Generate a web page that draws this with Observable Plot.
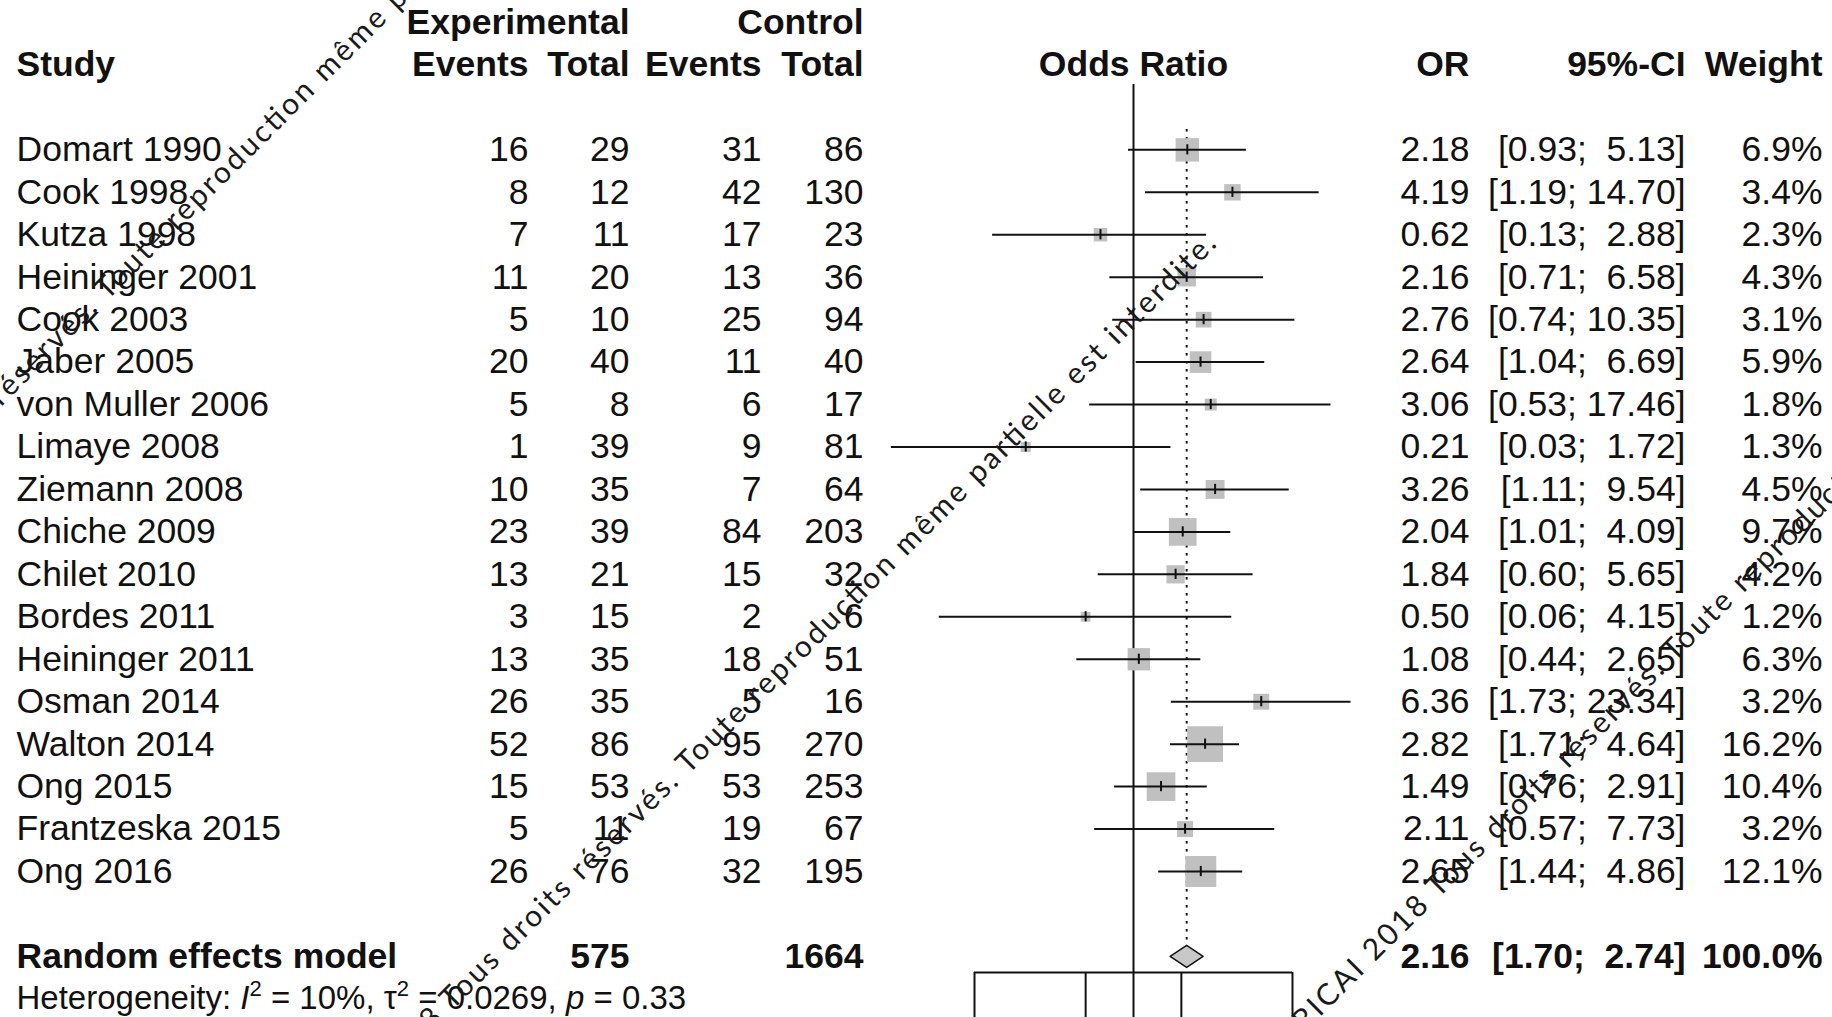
<!DOCTYPE html>
<html>
<head>
<meta charset="utf-8">
<script src="https://cdn.jsdelivr.net/npm/d3@7"></script>
<script src="https://cdn.jsdelivr.net/npm/@observablehq/plot@0.6"></script>
<style>
  html, body { margin: 0; padding: 0; background: #fff; }
  #chart svg { display: block; }
</style>
</head>
<body>
<div id="chart"></div>
<script>
// ---------------- data ----------------
const studies = ["Domart 1990","Cook 1998","Kutza 1998","Heininger 2001","Cook 2003","Jaber 2005",
  "von Muller 2006","Limaye 2008","Ziemann 2008","Chiche 2009","Chilet 2010","Bordes 2011",
  "Heininger 2011","Osman 2014","Walton 2014","Ong 2015","Frantzeska 2015","Ong 2016"];
const expEvents  = [16, 8, 7, 11, 5, 20, 5, 1, 10, 23, 13, 3, 13, 26, 52, 15, 5, 26];
const expTotal   = [29, 12, 11, 20, 10, 40, 8, 39, 35, 39, 21, 15, 35, 35, 86, 53, 11, 76];
const ctrlEvents = [31, 42, 17, 13, 25, 11, 6, 9, 7, 84, 15, 2, 18, 5, 95, 53, 19, 32];
const ctrlTotal  = [86, 130, 23, 36, 94, 40, 17, 81, 64, 203, 32, 6, 51, 16, 270, 253, 67, 195];
const oddsRatio  = [2.18, 4.19, 0.62, 2.16, 2.76, 2.64, 3.06, 0.21, 3.26, 2.04, 1.84, 0.50, 1.08, 6.36, 2.82, 1.49, 2.11, 2.65];
const ciLower    = [0.93, 1.19, 0.13, 0.71, 0.74, 1.04, 0.53, 0.03, 1.11, 1.01, 0.60, 0.06, 0.44, 1.73, 1.71, 0.76, 0.57, 1.44];
const ciUpper    = [5.13, 14.70, 2.88, 6.58, 10.35, 6.69, 17.46, 1.72, 9.54, 4.09, 5.65, 4.15, 2.65, 23.34, 4.64, 2.91, 7.73, 4.86];
const weights    = [6.9, 3.4, 2.3, 4.3, 3.1, 5.9, 1.8, 1.3, 4.5, 9.7, 4.2, 1.2, 6.3, 3.2, 16.2, 10.4, 3.2, 12.1];

const summaryLabel = "Random effects model";
const summaryOR = 2.16, summaryLower = 1.70, summaryUpper = 2.74, summaryWeight = 100.0;
const hetI2 = "10%", hetTau2 = "0.0269", hetP = "0.33";
const xTicks = [0.1, 0.5, 1, 2, 10];
const headerTop = ["Experimental", "Control"];
const headerCols = ["Study", "Events", "Total", "Events", "Total", "Odds Ratio", "OR", "95%-CI", "Weight"];
const watermark = "© RICAI 2018 Tous droits réservés. Toute reproduction même partielle est interdite.";

// ---------------- layout ----------------
const W = 1832, H = 1017;
const row0 = 22, rowH = 42.45;
const firstRow = 3;
const sumRow = firstRow + studies.length + 1;
const hetRow = sumRow + 1;
const axisRow = sumRow + 0.38;
const FONT = "'Liberation Sans', Arial, Helvetica, sans-serif";
const FS = 35.5;
const INK = "#111";

const nb = "\u00A0";
const f2 = v => v.toFixed(2);
const ciText = (lo, hi) => `[${f2(lo)};${nb}${f2(hi).padStart(5, nb)}]`;
const wText = w => w.toFixed(1) + "%";

const rows = studies.map((s, i) => ({
  study: s, ee: String(expEvents[i]), et: String(expTotal[i]), ce: String(ctrlEvents[i]), ct: String(ctrlTotal[i]),
  or: oddsRatio[i], lo: ciLower[i], hi: ciUpper[i], w: weights[i],
  orText: f2(oddsRatio[i]), ci: ciText(ciLower[i], ciUpper[i]), wt: wText(weights[i]),
  row: firstRow + i
}));

const summary = [{
  label: summaryLabel, et: String(d3.sum(expTotal)), ct: String(d3.sum(ctrlTotal)),
  orText: f2(summaryOR), ci: ciText(summaryLower, summaryUpper), wt: wText(summaryWeight), row: sumRow
}];

const dh = 0.26;
const diamond = [
  {x: summaryLower, y: sumRow}, {x: summaryOR, y: sumRow - dh},
  {x: summaryUpper, y: sumRow}, {x: summaryOR, y: sumRow + dh}, {x: summaryLower, y: sumRow}
];

// column right edges (px) for table text
const colX = {study: 16, ee: 528, et: 629, ce: 761, ct: 863, or: 1469, ci: 1685, wt: 1822};

const textCol = (data, key, field, opts = {}) => Plot.text(data, {
  y: "row", text: field, frameAnchor: "left", dx: colX[key],
  textAnchor: key === "study" ? "start" : "end", fill: INK, ...opts
});

const headers = [
  {t: headerTop[0], k: "et", r: 0}, {t: headerTop[1], k: "ct", r: 0},
  {t: headerCols[0], k: "study", r: 1}, {t: headerCols[1], k: "ee", r: 1},
  {t: headerCols[2], k: "et", r: 1}, {t: headerCols[3], k: "ce", r: 1},
  {t: headerCols[4], k: "ct", r: 1}, {t: headerCols[6], k: "or", r: 1},
  {t: headerCols[7], k: "ci", r: 1}, {t: headerCols[8], k: "wt", r: 1}
];

const wmLength = 1310;
const wmLines = [
  {dx: -305, dy: 682},
  {dx: 276, dy: 1156},
  {dx: 1262, dy: 1044}
];

const rMax = d3.max(weights);

const chart = Plot.plot({
  width: W, height: H,
  marginLeft: 0, marginRight: 0, marginTop: 0, marginBottom: 0,
  x: {type: "log", domain: [xTicks[0], xTicks[xTicks.length - 1]], range: [974, 1292], axis: null},
  y: {domain: [0, hetRow], range: [row0, row0 + rowH * hetRow], axis: null},
  r: {type: "sqrt", domain: [0, rMax], range: [0, 8.9 * Math.sqrt(rMax) / Math.sqrt(Math.PI)]},
  style: {fontFamily: FONT, fontSize: FS + "px", color: INK, background: "#fff", overflow: "hidden"},
  marks: [
    // reference line at OR = 1
    Plot.ruleX([1], {y1: 1.46, y2: axisRow, stroke: INK, strokeWidth: 2}),
    // summary dotted line
    Plot.ruleX([summaryOR], {y1: 2.52, y2: sumRow - dh, stroke: INK, strokeWidth: 2, strokeDasharray: "2.5,5.5"}),
    // squares
    Plot.dot(rows, {x: "or", y: "row", r: "w", symbol: "square", fill: "#c0c0c0", stroke: null}),
    // CI lines
    Plot.ruleY(rows, {y: "row", x1: "lo", x2: "hi", stroke: INK, strokeWidth: 2}),
    // estimate ticks
    Plot.ruleX(rows, {x: "or", y1: d => d.row - 0.12, y2: d => d.row + 0.12, stroke: INK, strokeWidth: 2}),
    // diamond
    Plot.line(diamond, {x: "x", y: "y", fill: "#c8c8c8", stroke: INK, strokeWidth: 1.5}),
    // axis
    Plot.ruleY([axisRow], {x1: xTicks[0], x2: xTicks[xTicks.length - 1], stroke: INK, strokeWidth: 2}),
    Plot.ruleX(xTicks, {y1: axisRow, y2: axisRow + 1.5, stroke: INK, strokeWidth: 2}),

    // headers
    ...headers.map(h => Plot.text([h], {y: "r", text: "t", frameAnchor: "left", dx: colX[h.k],
      textAnchor: h.k === "study" ? "start" : "end", fill: INK, fontWeight: "bold"})),
    Plot.text([headerCols[5]], {x: () => 1, y: () => 1, text: d => d, textAnchor: "middle", fill: INK, fontWeight: "bold"}),

    // study rows
    textCol(rows, "study", "study"),
    textCol(rows, "ee", "ee"),
    textCol(rows, "et", "et"),
    textCol(rows, "ce", "ce"),
    textCol(rows, "ct", "ct"),
    textCol(rows, "or", "orText"),
    textCol(rows, "ci", "ci"),
    textCol(rows, "wt", "wt"),

    // summary row
    textCol(summary, "study", "label", {fontWeight: "bold"}),
    textCol(summary, "et", "et", {fontWeight: "bold"}),
    textCol(summary, "ct", "ct", {fontWeight: "bold"}),
    textCol(summary, "or", "orText", {fontWeight: "bold"}),
    textCol(summary, "ci", "ci", {fontWeight: "bold"}),
    textCol(summary, "wt", "wt", {fontWeight: "bold"}),

    // heterogeneity
    Plot.text([{row: hetRow}], {y: "row", text: () => "Heterogeneity", frameAnchor: "left", dx: colX.study,
      textAnchor: "start", fill: INK, fontSize: 33, ariaLabel: () => "heterogeneity"}),

    // watermark
    ...wmLines.map(l => Plot.text([watermark], {text: d => d, frameAnchor: "top-left", dx: l.dx, dy: l.dy,
      rotate: -45, textAnchor: "start", fontFamily: "Lato, 'Open Sans', sans-serif", fontSize: 30,
      fill: "#1a1a1a", ariaLabel: () => "watermark"}))
  ]
});

const svg = d3.select(chart);

// rich heterogeneity text
const het = svg.select("text[aria-label='heterogeneity']");
het.text(null);
const parts = [
  {t: "Heterogeneity: "}, {t: "I", it: true}, {t: "2", sup: true},
  {t: " = " + hetI2 + ", "}, {t: "τ"}, {t: "2", sup: true},
  {t: " = " + hetTau2 + ", "}, {t: "p", it: true}, {t: " = " + hetP}
];
let raised = false;
for (const p of parts) {
  const ts = het.append("tspan").text(p.t);
  if (p.it) ts.attr("font-style", "italic");
  if (p.sup) { ts.attr("font-size", "22px").attr("dy", "-13"); raised = true; }
  else if (raised) { ts.attr("dy", "13"); raised = false; }
}

// watermark stretch
svg.selectAll("text[aria-label='watermark']").attr("textLength", wmLength).attr("lengthAdjust", "spacing");

document.getElementById("chart").appendChild(chart);
</script>
</body>
</html>
